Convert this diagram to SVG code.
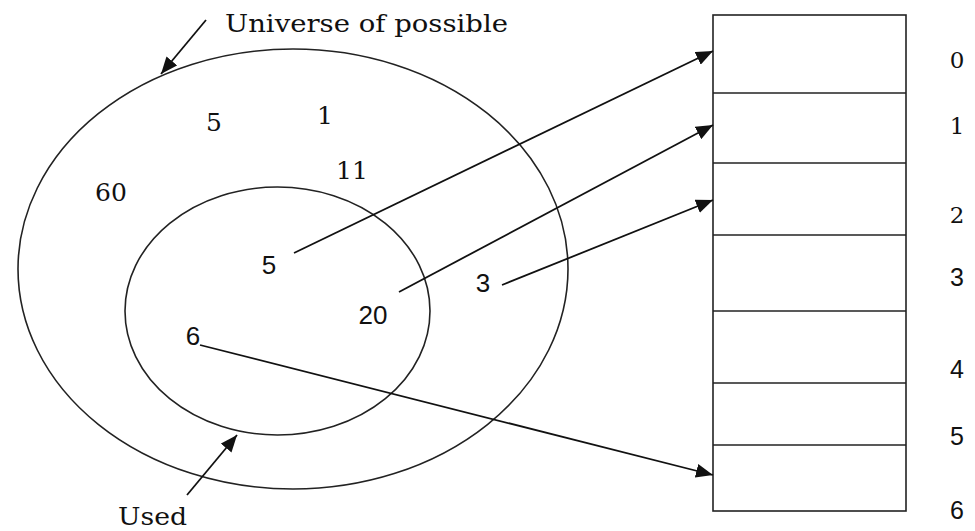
<svg xmlns="http://www.w3.org/2000/svg" width="975" height="531" viewBox="0 0 975 531">
<style>
.sh{fill:none;stroke:#222;stroke-width:1.6}
.ln{fill:none;stroke:#111;stroke-width:1.8}
.num{font-family:"Liberation Sans",Arial,sans-serif;font-size:26px;fill:#111;text-anchor:middle;dominant-baseline:central}
.snum{font-family:"DejaVu Serif",serif;font-size:25px;fill:#111;text-anchor:middle;dominant-baseline:central}
.idx{font-family:"DejaVu Serif",serif;font-size:23px;fill:#111;text-anchor:middle;dominant-baseline:central}
.idxs{font-family:"Liberation Sans",Arial,sans-serif;font-size:25px;fill:#111;text-anchor:middle;dominant-baseline:central}
.lbl{font-family:"DejaVu Serif",serif;font-size:25px;fill:#111}
</style>
<defs>
<marker id="ah" markerUnits="userSpaceOnUse" markerWidth="18" markerHeight="14" refX="17" refY="7" orient="auto">
<path d="M0,0 L17,7 L0,14 z" fill="#111"/>
</marker>
</defs>
<rect width="975" height="531" fill="#fff"/>
<g id="universe">
<ellipse class="sh" cx="293" cy="269" rx="275" ry="220"/>
</g>
<g id="used">
<ellipse class="sh" cx="277.5" cy="311" rx="152.5" ry="124"/>
</g>
<g id="table">
<rect class="sh" x="713" y="15" width="193" height="496"/>
<line class="sh" x1="713" y1="93" x2="906" y2="93"/>
<line class="sh" x1="713" y1="163" x2="906" y2="163"/>
<line class="sh" x1="713" y1="235" x2="906" y2="235"/>
<line class="sh" x1="713" y1="311" x2="906" y2="311"/>
<line class="sh" x1="713" y1="383" x2="906" y2="383"/>
<line class="sh" x1="713" y1="445" x2="906" y2="445"/>
</g>
<g id="indices">
<text class="idx" x="957" y="60">0</text>
<text class="idx" x="957" y="126">1</text>
<text class="idx" x="957" y="215">2</text>
<text class="idxs" x="957" y="277">3</text>
<text class="idxs" x="957" y="369">4</text>
<text class="idxs" x="957" y="436">5</text>
<text class="idxs" x="957" y="510">6</text>
</g>
<g id="values">
<text class="snum" x="214" y="122">5</text>
<text class="snum" x="325" y="115">1</text>
<text class="snum" x="352" y="170">11</text>
<text class="snum" x="111" y="192">60</text>
<text class="num" x="269" y="265">5</text>
<text class="num" x="373" y="315">20</text>
<text class="num" x="483" y="283">3</text>
<text class="num" x="193" y="336">6</text>
</g>
<g id="labels">
<text class="lbl" x="225" y="32" textLength="283" lengthAdjust="spacingAndGlyphs">Universe of possible</text>
<text class="lbl" x="118" y="525" textLength="69" lengthAdjust="spacingAndGlyphs">Used</text>
</g>
<g id="connectors">
<line class="ln" x1="206" y1="20" x2="161" y2="74" marker-end="url(#ah)"/>
<line class="ln" x1="187" y1="495" x2="237" y2="435" marker-end="url(#ah)"/>
<line class="ln" x1="294" y1="253" x2="713" y2="51" marker-end="url(#ah)"/>
<line class="ln" x1="399" y1="292" x2="713" y2="125" marker-end="url(#ah)"/>
<line class="ln" x1="502" y1="285" x2="713" y2="200" marker-end="url(#ah)"/>
<line class="ln" x1="200" y1="345" x2="713" y2="475" marker-end="url(#ah)"/>
</g>
</svg>
